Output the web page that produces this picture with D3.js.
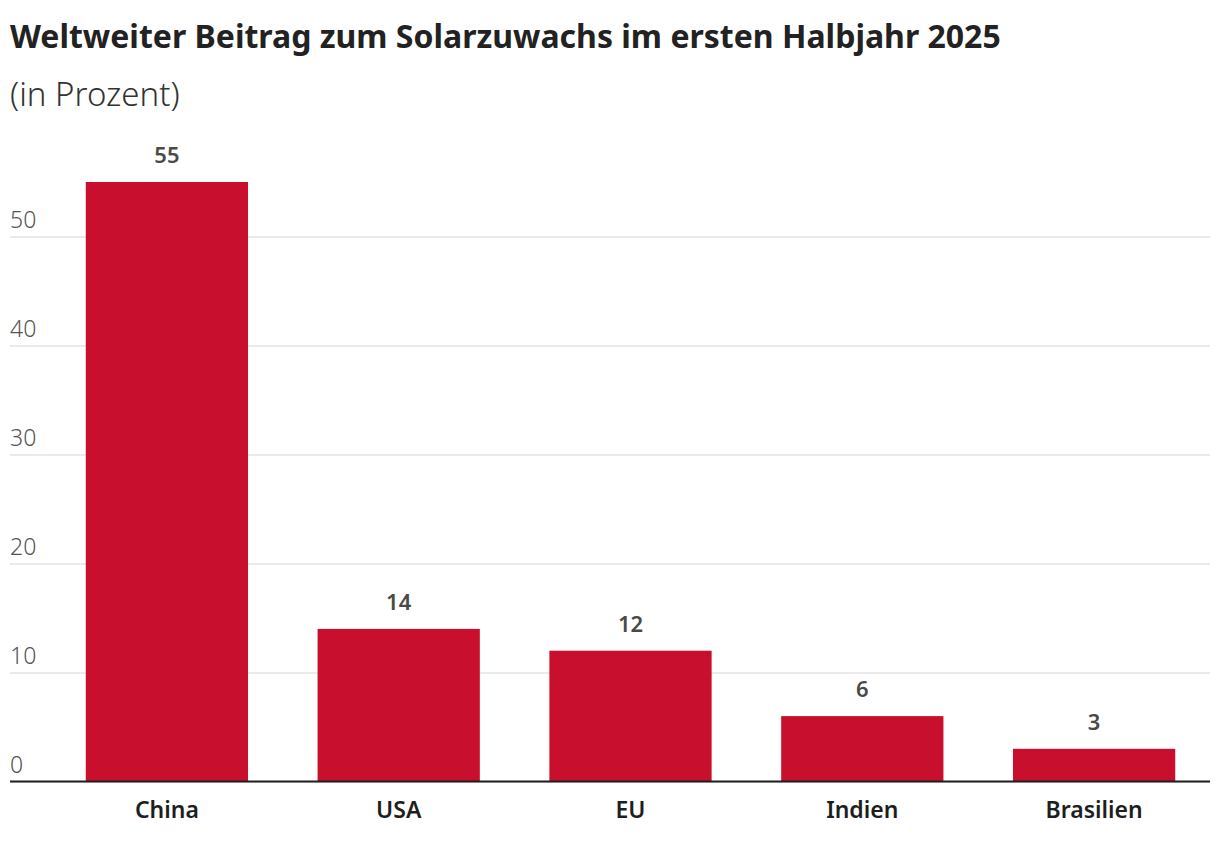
<!DOCTYPE html>
<html>
<head>
<meta charset="utf-8">
<script src="https://cdn.jsdelivr.net/npm/d3@7"></script>
<style>
  body { margin: 0; background: #fff; }
  svg, svg text { display: block; font-family: "Noto Sans", sans-serif; }
</style>
</head>
<body>
<div class="chart"></div>
<script>
"use strict";

// Data
var regions = ["China", "USA", "EU", "Indien", "Brasilien"];
var shares = [55, 14, 12, 6, 3];
var yTicks = [0, 10, 20, 30, 40, 50];

var width = 1220;
var height = 844;
var margin = { top: 182, right: 10, bottom: 62.5, left: 10 };
var barLeft = 51; // bars start after the tick labels

var barColor = "#c8102e";
var gridColor = "#e3e3e3";
var fontFamily = "'Noto Sans', sans-serif";

var svg = d3.select(".chart").append("svg")
    .attr("width", width)
    .attr("height", height);

var x = d3.scaleBand()
    .domain(regions)
    .range([barLeft, width - margin.right])
    .paddingInner(0.3)
    .paddingOuter(0.15);

var y = d3.scaleLinear()
    .domain([0, 55])
    .range([height - margin.bottom, margin.top]);

// Gridlines + tick labels
var yAxis = svg.append("g")
    .attr("transform", "translate(" + margin.left + ",0)")
    .call(d3.axisRight(y)
        .tickValues(yTicks)
        .tickSize(width - margin.left - margin.right)
        .tickFormat(d3.format("d")));

yAxis.attr("font-family", fontFamily);
yAxis.select(".domain").remove();
yAxis.selectAll(".tick line")
    .attr("stroke", gridColor)
    .attr("stroke-width", 1.5);
yAxis.selectAll(".tick text")
    .attr("x", 0)
    .attr("dy", -9)
    .attr("text-anchor", "start")
    .style("font-size", "23px")
    .style("font-weight", 300)
    .style("fill", "#555");

// Bars
svg.selectAll(".bar")
    .data(regions)
    .enter().append("rect")
    .attr("class", "bar")
    .attr("x", function (d) { return x(d); })
    .attr("width", x.bandwidth())
    .attr("y", function (d, i) { return y(shares[i]); })
    .attr("height", function (d, i) { return y(0) - y(shares[i]); })
    .attr("fill", barColor);

// Value labels
svg.selectAll(".value")
    .data(regions)
    .enter().append("text")
    .attr("class", "value")
    .attr("x", function (d) { return x(d) + x.bandwidth() / 2; })
    .attr("y", function (d, i) { return y(shares[i]) - 19; })
    .attr("text-anchor", "middle")
    .style("font-size", "22px")
    .style("font-weight", 600)
    .style("fill", "#4a4a46")
    .text(function (d, i) { return shares[i]; });

// Baseline
svg.append("line")
    .attr("x1", margin.left)
    .attr("x2", width - margin.right)
    .attr("y1", y(0))
    .attr("y2", y(0))
    .attr("stroke", "#1e1e1e")
    .attr("stroke-width", 2);

// Category labels
var xAxis = svg.append("g")
    .attr("transform", "translate(0," + y(0) + ")")
    .call(d3.axisBottom(x).tickSize(0).tickPadding(0));

xAxis.attr("font-family", fontFamily);
xAxis.select(".domain").remove();
xAxis.selectAll(".tick text")
    .attr("dy", 0)
    .attr("y", 36)
    .style("font-size", "23px")
    .style("font-weight", 600)
    .style("fill", "#1e1e1e");

// Title and subtitle
svg.append("text")
    .attr("x", 10)
    .attr("y", 48)
    .style("font-size", "32px")
    .style("font-weight", 700)
    .style("fill", "#222")
    .text("Weltweiter Beitrag zum Solarzuwachs im ersten Halbjahr 2025");

svg.append("text")
    .attr("x", 10)
    .attr("y", 106)
    .style("font-size", "33px")
    .style("font-weight", 300)
    .style("fill", "#333")
    .text("(in Prozent)");
</script>
</body>
</html>
